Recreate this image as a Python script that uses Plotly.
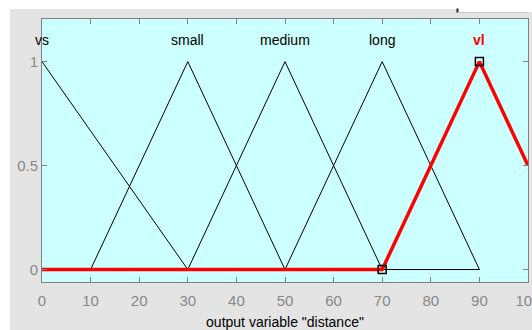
import plotly.graph_objects as go

# ---- data ----
mf_names = ["vs", "small", "medium", "long", "vl"]
mf_params = [[-30, 0, 30], [10, 30, 50], [30, 50, 70], [50, 70, 90], [70, 90, 110]]
selected = "vl"
x_range = [0, 100]
x_ticks = [0, 10, 20, 30, 40, 50, 60, 70, 80, 90, 100]
y_ticks = [0, 0.5, 1]
x_title = 'output variable "distance"'


def trimf(x, p):
    a, b, c = p
    if x <= a or x >= c:
        return 1.0 if x == b else 0.0
    if x <= b:
        return (x - a) / (b - a) if b != a else 1.0
    return (c - x) / (c - b) if c != b else 1.0


W, H = 532, 330
ML, MR, MT, MB = 42, 4, 19, 48
PW, PH = W - ML - MR, H - MT - MB


def px(xp):
    return (xp - ML) / PW


def py(yp):
    return (H - MB - yp) / PH


fig = go.Figure()

font = "Liberation Sans, Arial, sans-serif"

# black membership functions
for name, p in zip(mf_names, mf_params):
    if name == selected:
        continue
    lo, hi = max(p[0], x_range[0]), min(p[2], x_range[1])
    xs = sorted(set([lo, hi] + [v for v in p if lo <= v <= hi]))
    ys = [trimf(v, p) for v in xs]
    xs = xs + [lo]
    ys = ys + [0.0]
    fig.add_trace(go.Scatter(x=xs, y=ys, mode="lines",
                             line=dict(color="black", width=1),
                             hoverinfo="skip", showlegend=False))

# selected MF in red over the whole range
sp = mf_params[mf_names.index(selected)]
xs = sorted(set(x_range + [v for v in sp if x_range[0] <= v <= x_range[1]]))
ys = [trimf(v, sp) for v in xs]
fig.add_trace(go.Scatter(x=xs, y=ys, mode="lines",
                         line=dict(color="#ff0000", width=3.5),
                         hoverinfo="skip", showlegend=False))
# parameter handles
hx = [v for v in sp if x_range[0] <= v <= x_range[1]]
hy = [trimf(v, sp) for v in hx]
fig.add_trace(go.Scatter(x=hx, y=hy, mode="markers",
                         marker=dict(symbol="square-open", size=8,
                                     color="black", line=dict(width=1.5)),
                         hoverinfo="skip", showlegend=False))

# labels
for name, p in zip(mf_names, mf_params):
    sel = name == selected
    fig.add_annotation(x=p[1], y=1.102, text=("<b>%s</b>" % name) if sel else name,
                       showarrow=False, xanchor="center", yanchor="middle",
                       font=dict(family=font, size=14,
                                 color="#ff0000" if sel else "black"))

# white strips around the gray figure area
shapes = [
    dict(type="rect", xref="paper", yref="paper", x0=px(0), x1=px(10),
         y0=py(H), y1=py(0), fillcolor="white", line_width=0, layer="above"),
    dict(type="rect", xref="paper", yref="paper", x0=px(0), x1=px(W),
         y0=py(9), y1=py(0), fillcolor="white", line_width=0, layer="above"),
    dict(type="rect", xref="paper", yref="paper", x0=px(457), x1=px(W),
         y0=py(12), y1=py(0), fillcolor="white", line_width=0, layer="above"),
    dict(type="line", xref="paper", yref="paper", x0=px(457.5), x1=px(457.5),
         y0=py(12.5), y1=py(8.5), line=dict(color="#222222", width=2), layer="above"),
    dict(type="line", xref="paper", yref="paper", x0=px(458), x1=px(528),
         y0=py(12.5), y1=py(12.5), line=dict(color="#c8c8c8", width=1), layer="above"),
]

fig.update_layout(
    width=W, height=H,
    margin=dict(l=ML, r=MR, t=MT, b=MB, autoexpand=False),
    paper_bgcolor="#e4e4e4",
    plot_bgcolor="#ccffff",
    shapes=shapes,
    xaxis=dict(range=x_range, tickvals=x_ticks, ticks="inside", ticklen=5,
               tickcolor="#808080", showline=True, linecolor="#808080",
               linewidth=1, mirror="ticks", showgrid=False, zeroline=False,
               ticklabeloverflow="allow", ticklabelstandoff=5,
               tickfont=dict(family=font, size=15, color="#888888"),
               title=dict(text=x_title, standoff=14,
                          font=dict(family=font, size=14, color="black")),
               automargin=False),
    yaxis=dict(range=[-0.06, 1.205], tickvals=y_ticks, ticktext=["0", "0.5", "1"],
               ticks="inside", ticklen=5, tickcolor="#808080",
               showline=True, linecolor="#808080", linewidth=1, mirror="ticks",
               showgrid=False, zeroline=False,
               tickfont=dict(family=font, size=15, color="#888888"),
               automargin=False),
)

fig.write_html("out.html")
